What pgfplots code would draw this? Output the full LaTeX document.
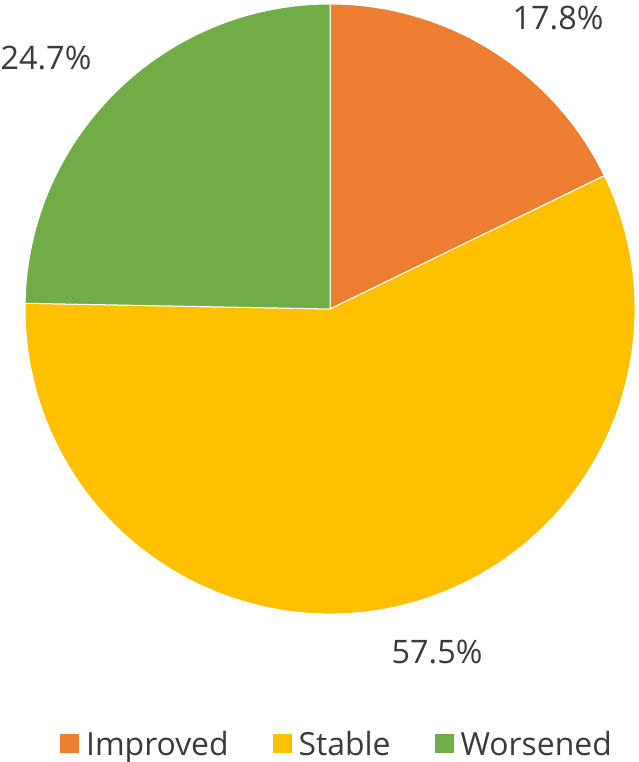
\documentclass[border=0pt]{standalone}
\usepackage{pgfplots}
\pgfplotsset{compat=1.18}
\usepackage{pgfplotstable}
\usepackage{fontspec}
\setmainfont{Open Sans}
\definecolor{cImp}{HTML}{ED7D31}
\definecolor{cSta}{HTML}{FFC000}
\definecolor{cWor}{HTML}{70AD47}
\definecolor{txt}{HTML}{3A3A3A}

% share in percent, label position in pixel units (y from bottom)
\pgfplotstableread{
name     share color lx  ly
Improved 17.8  cImp  558 744
Stable   57.5  cSta  437 110
Worsened 24.7  cWor  46  704
}\piedata

\begin{document}
\begin{tikzpicture}
\begin{axis}[
    scale only axis,
    width=639bp, height=762bp,
    xmin=0, xmax=639, ymin=0, ymax=762,
    axis lines=none,
    clip=false,
    legend columns=3,
    legend style={at={(axis cs:337,18)}, anchor=center, draw=none,
        fill=none, font=\fontsize{32}{36}\selectfont, text=txt,
        inner sep=0pt, outer sep=0pt,
        /tikz/every odd column/.append style={column sep=5bp},
        /tikz/every even column/.append style={column sep=42bp}},
    legend image code/.code={\fill[#1, draw=none] (0bp,-9bp) rectangle (19bp,10bp);},
]
\coordinate (bl) at (axis cs:0,0);
\coordinate (tr) at (axis cs:639,762);
\def\cum{0}
\pgfplotsforeachungrouped \i in {0,1,2}{%
    \pgfplotstablegetelem{\i}{share}\of\piedata \let\sh\pgfplotsretval
    \pgfplotstablegetelem{\i}{color}\of\piedata \let\col\pgfplotsretval
    \pgfplotstablegetelem{\i}{lx}\of\piedata \let\lx\pgfplotsretval
    \pgfplotstablegetelem{\i}{ly}\of\piedata \let\ly\pgfplotsretval
    \pgfmathsetmacro\sa{90-3.6*\cum}
    \pgfmathsetmacro\cum{\cum+\sh}
    \pgfmathsetmacro\ea{90-3.6*\cum}
    \edef\cmd{\noexpand\fill[\col, draw=white, line width=1bp]
        (axis cs:330,453) -- ++(\sa:305bp)
        arc[start angle=\sa, end angle=\ea, radius=305bp] -- cycle;
        \noexpand\node[text=txt, font=\noexpand\fontsize{32.5}{36}\noexpand\selectfont]
        at (axis cs:\lx,\ly) {\sh\noexpand\%};}%
    \cmd
}
\addlegendimage{fill=cImp}
\addlegendentry{Improved}
\addlegendimage{fill=cSta}
\addlegendentry{Stable}
\addlegendimage{fill=cWor}
\addlegendentry{Worsened}
\end{axis}
\pgfresetboundingbox
\path (bl) rectangle (tr);
\end{tikzpicture}
\end{document}
